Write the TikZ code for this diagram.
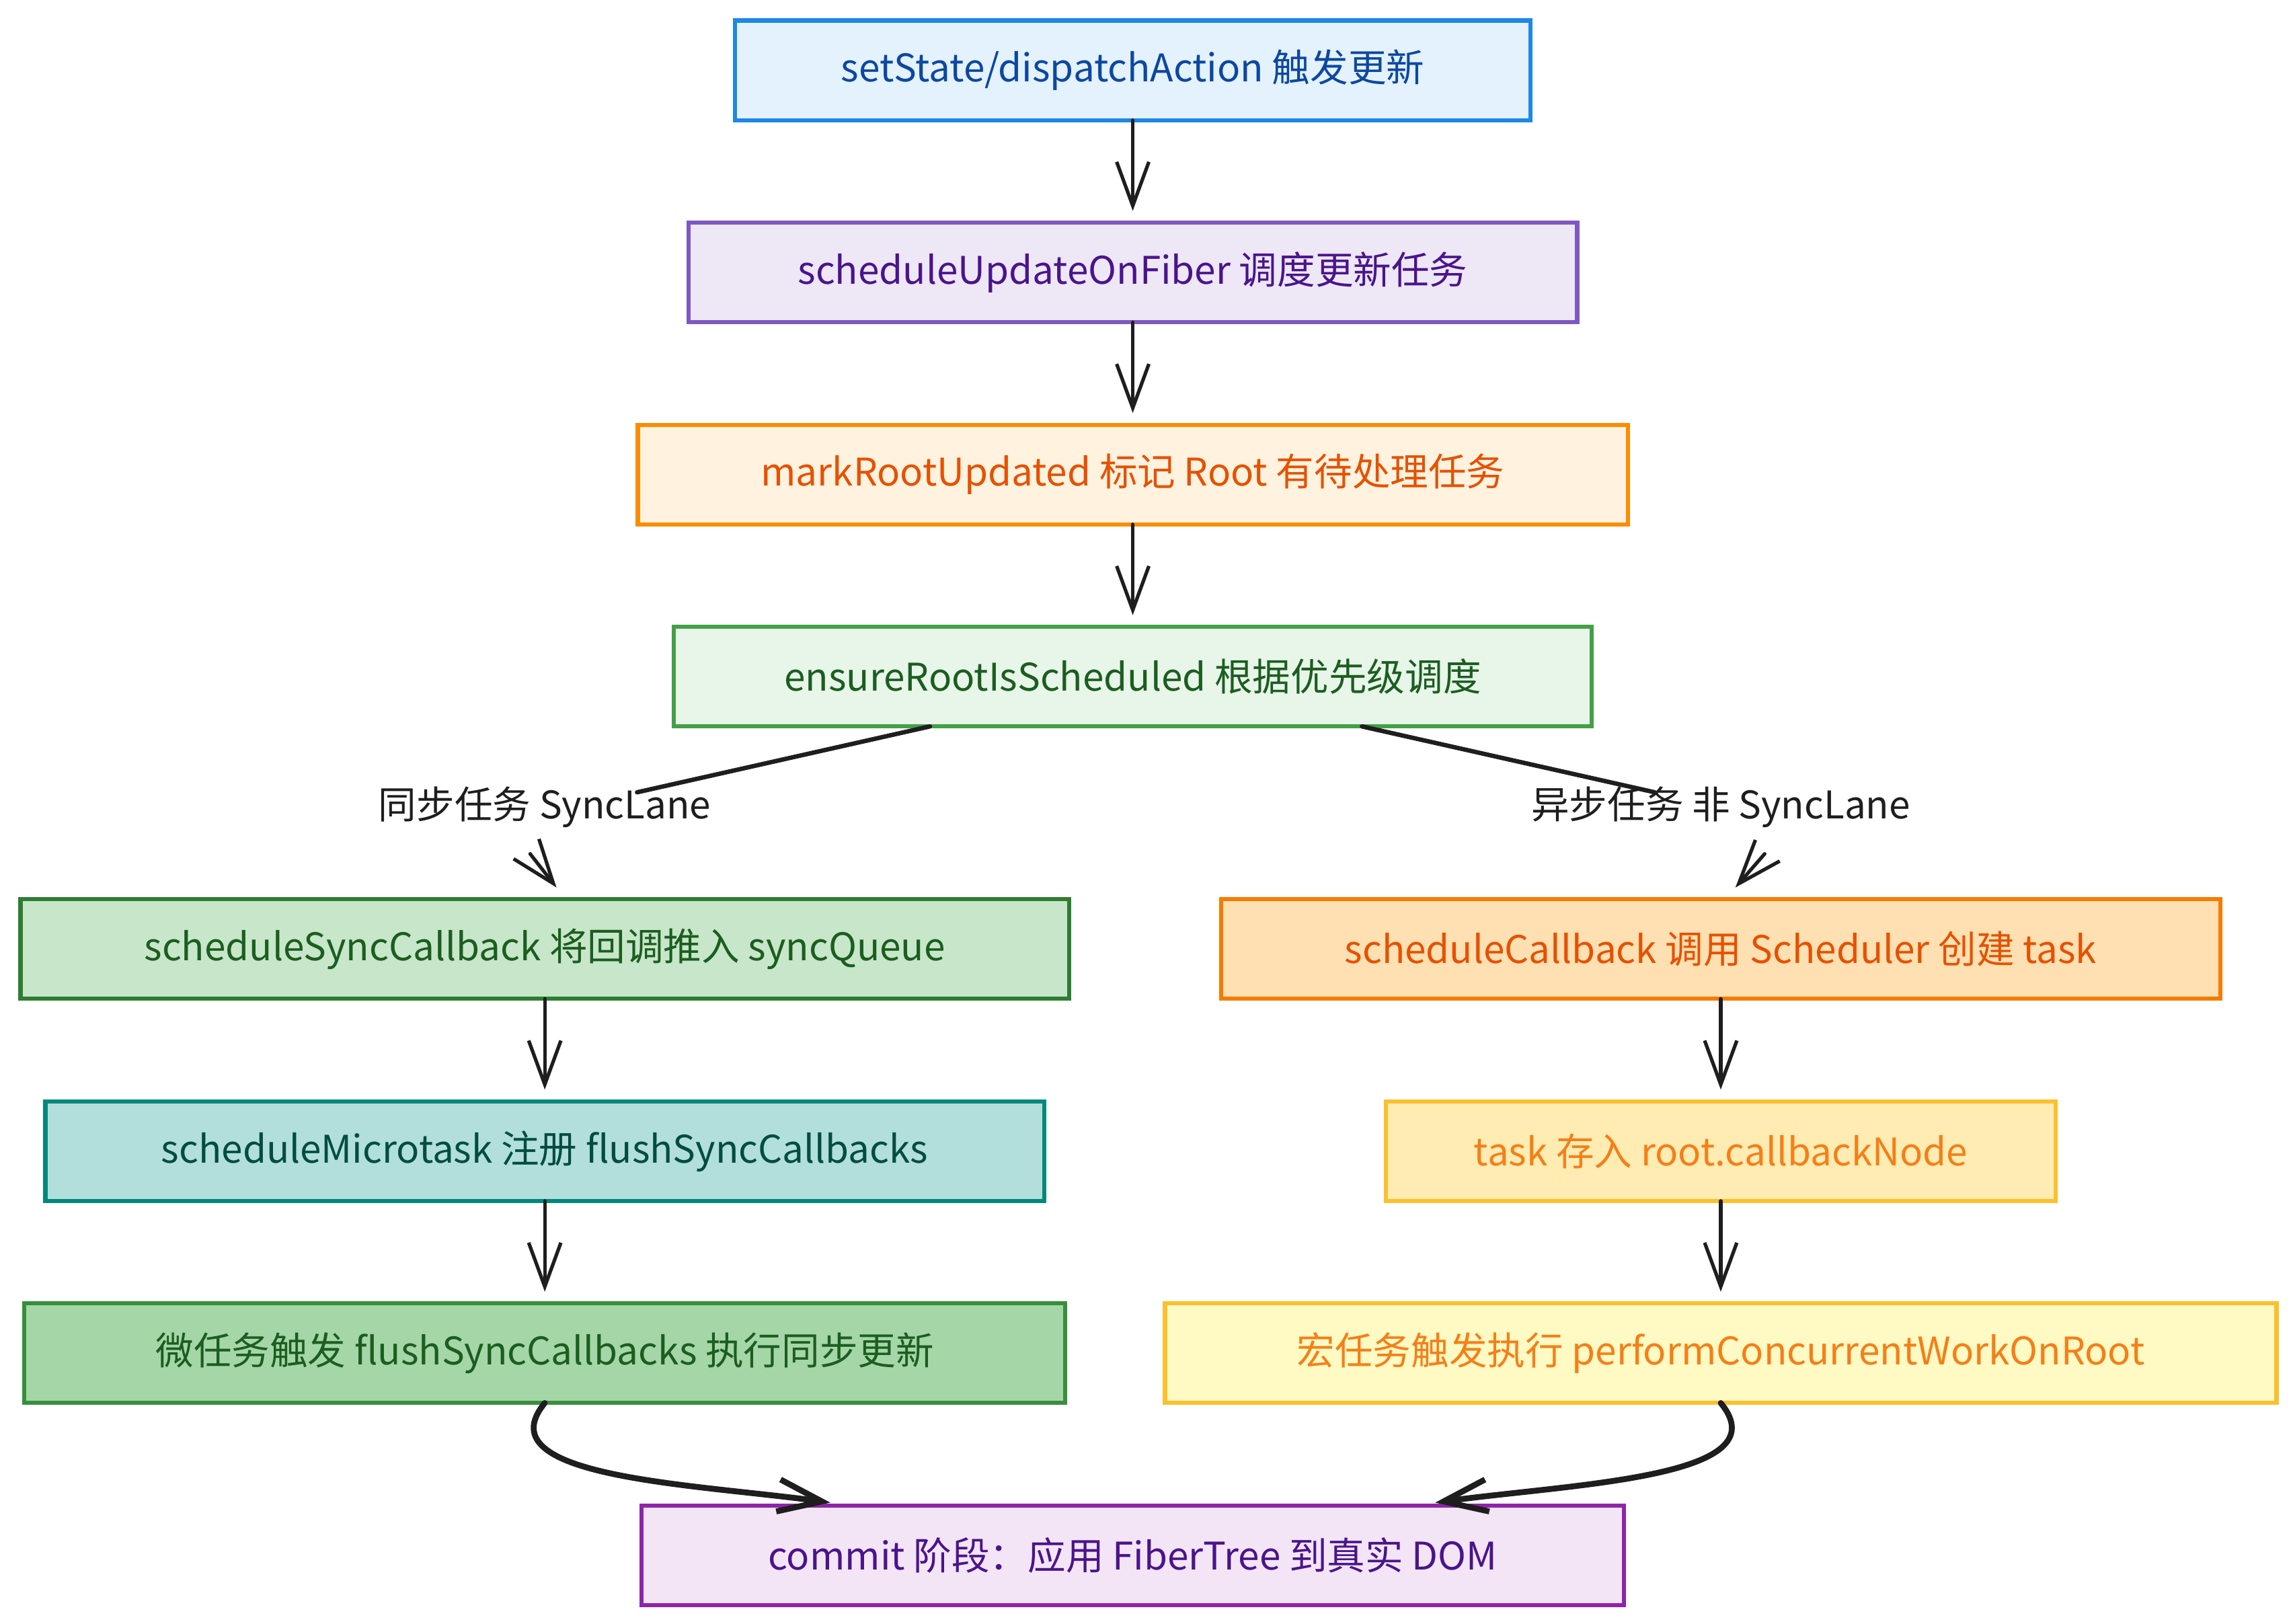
\documentclass[tikz,border=0pt]{standalone}
\usepackage{fontspec}
\setmainfont{Noto Sans CJK SC}
\usetikzlibrary{arrows.meta,positioning,calc}
\definecolor{ink}{HTML}{1E1E1E}
\definecolor{bluefill}{HTML}{E3F2FD}\definecolor{blueline}{HTML}{1E88E5}\definecolor{bluetext}{HTML}{0D47A1}
\definecolor{lilacfill}{HTML}{EDE7F6}\definecolor{lilacline}{HTML}{7E57C2}\definecolor{lilactext}{HTML}{4A148C}
\definecolor{orangefill}{HTML}{FFF3E0}\definecolor{orangeline}{HTML}{FB8C00}\definecolor{orangetext}{HTML}{E65100}
\definecolor{greenfill}{HTML}{E8F5E9}\definecolor{greenline}{HTML}{43A047}\definecolor{greentext}{HTML}{1B5E20}
\definecolor{syncfill}{HTML}{C8E6C9}\definecolor{syncline}{HTML}{2E7D32}
\definecolor{schedfill}{HTML}{FFE0B2}\definecolor{schedline}{HTML}{F57C00}
\definecolor{microfill}{HTML}{B2DFDB}\definecolor{microline}{HTML}{00897B}\definecolor{microtext}{HTML}{004D40}
\definecolor{taskfill}{HTML}{FFECB3}\definecolor{amberline}{HTML}{FBC02D}\definecolor{ambertext}{HTML}{F57F17}
\definecolor{weifill}{HTML}{A5D6A7}\definecolor{weiline}{HTML}{388E3C}
\definecolor{hongfill}{HTML}{FFF9C4}
\definecolor{commitfill}{HTML}{F3E5F5}\definecolor{commitline}{HTML}{8E24AA}
\tikzset{stage/.style n args={3}{
       rectangle,
       draw=#1,
       fill=#2,
       text=#3,
       line width=1.4pt,
       minimum height=34pt,
       inner sep=0pt,
       outer sep=0pt,
       font=\fontsize{13}{15}\selectfont
     },
     lane/.style={
       inner sep=0pt,
       outer sep=0pt,
       text height=9pt,
       text depth=3pt,
       text=ink,
       font=\fontsize{13}{15}\selectfont
     },
     branch/.style={draw=ink, line width=1.5pt, line cap=round},
     merge/.style={draw=ink, line width=2pt, line cap=round, ->}
}
\begin{document}
\begin{tikzpicture}[
    >={Straight Barb[length=15pt,width=11pt]},
    every edge/.style={draw=ink, line width=1.2pt, line cap=round}]
    \useasboundingbox (0,0) rectangle (782.2pt,-554.4pt);

    \node[stage={blueline}{bluefill}{bluetext}, minimum width=271.5pt] (set) at (386.75pt,-24pt) {setState/dispatchAction 触发更新};

    \node[stage={lilacline}{lilacfill}{lilactext}, minimum width=303.5pt] (upd) [below=35pt of set] {scheduleUpdateOnFiber 调度更新任务}
      edge [<-, shorten <=4pt] (set);

    \node[stage={orangeline}{orangefill}{orangetext}, minimum width=338pt] (mark) [below=35pt of upd] {markRootUpdated 标记 Root 有待处理任务}
      edge [<-, shorten <=4pt] (upd);

    \node[stage={greenline}{greenfill}{greentext}, minimum width=313.5pt] (ens) [below=35pt of mark] {ensureRootIsScheduled 根据优先级调度}
      edge [<-, shorten <=4pt] (mark);

    % two lanes
    \node[stage={syncline}{syncfill}{greentext}, minimum width=358pt] (sync) [below=59pt of ens, xshift=-200.75pt] {scheduleSyncCallback 将回调推入 syncQueue};
    \node[stage={schedline}{schedfill}{orangetext}, minimum width=341pt] (sched) [below=59pt of ens, xshift=200.75pt] {scheduleCallback 调用 Scheduler 创建 task};

    \node[lane] (lsync) [above=24.5pt of sync] {同步任务 SyncLane};
    \node[lane] (lasync) [above=24.5pt of sched] {异步任务 非 SyncLane};

    \draw[branch] ([xshift=-69.25pt]ens.south) -- ([xshift=31.5pt]lsync.north);
    \draw[branch, line width=1.2pt, ->] ([xshift=-5pt,yshift=-9pt]lsync.south) -- ([xshift=4pt,yshift=4pt]sync.north);
    \draw[branch] ([xshift=78.25pt]ens.south) -- ([xshift=-22.5pt]lasync.north);
    \draw[branch, line width=1.2pt, ->] ([xshift=15pt,yshift=-9pt]lasync.south) -- ([xshift=5pt,yshift=4pt]sched.north);

    \node[stage={microline}{microfill}{microtext}, minimum width=341pt] (micro) [below=35pt of sync] {scheduleMicrotask 注册 flushSyncCallbacks}
      edge [<-, shorten <=4pt] (sync);
    \node[stage={amberline}{taskfill}{ambertext}, minimum width=228.5pt] (task) [below=35pt of sched] {task 存入 root.callbackNode}
      edge [<-, shorten <=4pt] (sched);

    \node[stage={weiline}{weifill}{greentext}, minimum width=355.5pt] (wei) [below=35pt of micro] {微任务触发 flushSyncCallbacks 执行同步更新}
      edge [<-, shorten <=4pt] (micro);
    \node[stage={amberline}{hongfill}{ambertext}, minimum width=379.5pt] (hong) [below=35pt of task] {宏任务触发执行 performConcurrentWorkOnRoot}
      edge [<-, shorten <=4pt] (task);

    \coordinate (mid) at ($(wei.south)!0.5!(hong.south)$);
    \node[stage={commitline}{commitfill}{lilactext}, minimum width=335.5pt] (commit) [below=35pt of mid] {commit 阶段：应用 FiberTree 到真实 DOM};

    \draw[merge] (wei.south) .. controls +(-21pt,-25.5pt) and +(-47.5pt,6.5pt) .. ([xshift=-103.25pt,yshift=1pt]commit.north);
    \draw[merge] (hong.south) .. controls +(21pt,-25.5pt) and +(47.5pt,6.5pt) .. ([xshift=103.25pt,yshift=1pt]commit.north);
  \end{tikzpicture}
\end{document}
